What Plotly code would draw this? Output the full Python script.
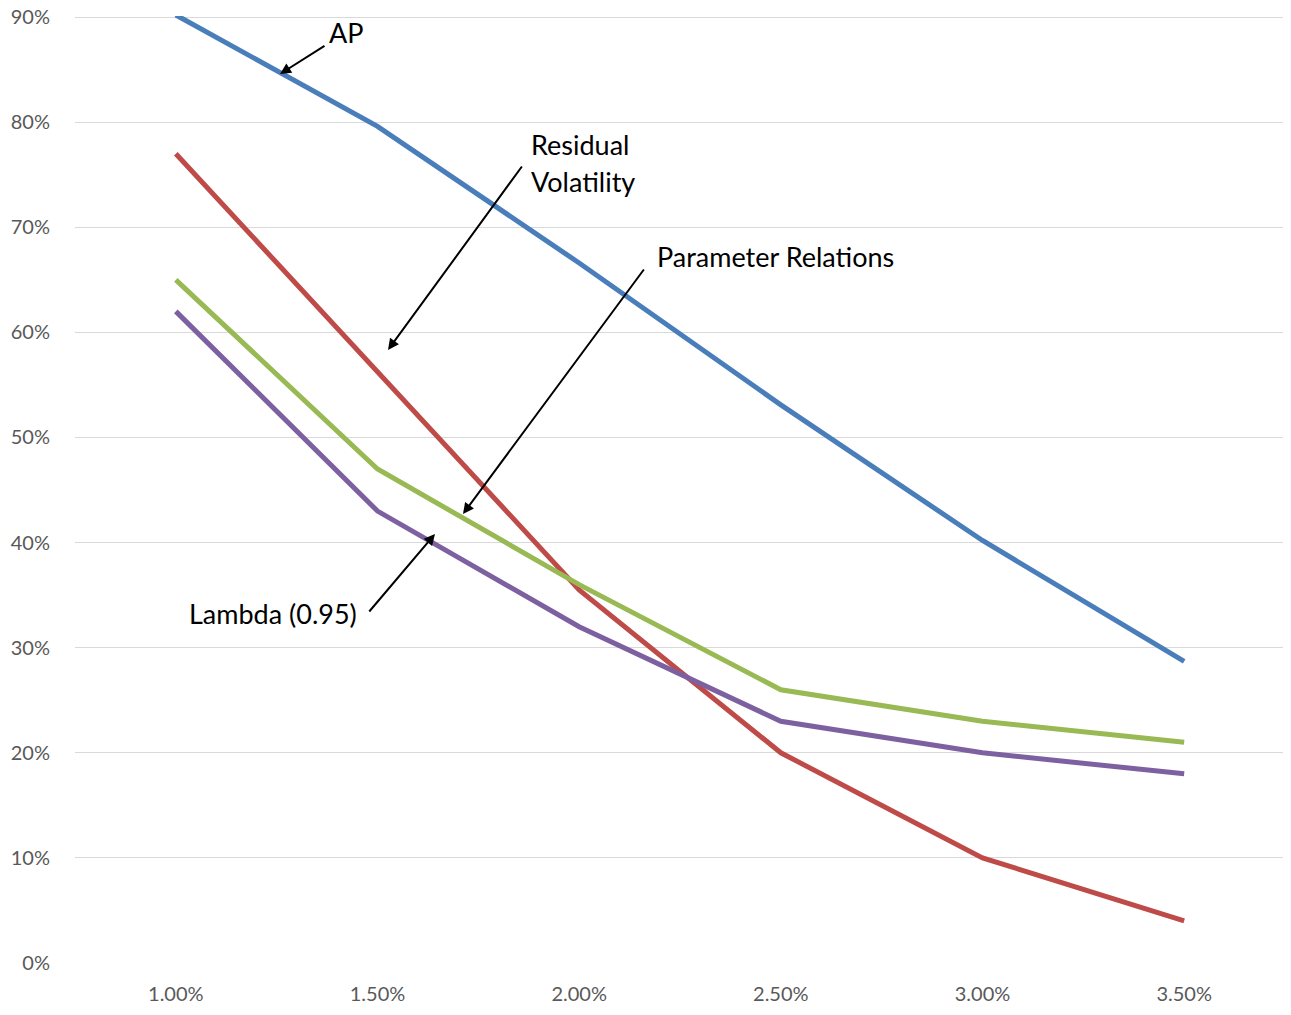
import plotly.graph_objects as go

categories = ["1.00%", "1.50%", "2.00%", "2.50%", "3.00%", "3.50%"]
ap = [0.902, 0.796, 0.666, 0.531, 0.402, 0.287]
residual_vol = [0.77, 0.562, 0.355, 0.20, 0.10, 0.04]
param_rel = [0.65, 0.47, 0.36, 0.26, 0.23, 0.21]
lambda_095 = [0.62, 0.43, 0.32, 0.23, 0.20, 0.18]
y_ticks = [0.0, 0.1, 0.2, 0.3, 0.4, 0.5, 0.6, 0.7, 0.8, 0.9]

series_names = ["AP", "Residual Volatility", "Parameter Relations", "Lambda (0.95)"]
series_values = [ap, residual_vol, param_rel, lambda_095]
series_colors = ["#4A7EBB", "#BE4B48", "#98B954", "#7D60A0"]

# page offset (body margin) and target plot area in screen pixels
OFF = 8
PX0, PX1, PY0, PY1 = 75, 1285, 16, 963
Y_MAX = 0.901
FIG_W, FIG_H = 1277, 999
L = PX0 - OFF
R = FIG_W - (PX1 - OFF)
T = PY0 - OFF
B = FIG_H - (PY1 - OFF)
FONT = "Lato, 'Open Sans', sans-serif"

fig = go.Figure()
for name, vals, col in zip(series_names, series_values, series_colors):
    fig.add_trace(go.Scatter(
        x=list(range(len(categories))), y=vals, mode="lines", name=name,
        line=dict(color=col, width=5), showlegend=False, cliponaxis=True,
    ))

pw, ph = PX1 - PX0, PY1 - PY0


def px2paper(px, py):
    return (px - PX0) / pw, (PY1 - py) / ph


def px2data(px, py):
    xd = (px - PX0) / pw * len(categories) - 0.5
    yd = (PY1 - py) / ph * Y_MAX
    return xd, yd


# arrows: (tip px, tail px)
arrows = [((280, 74), (326, 45)),
          ((388, 350), (523, 165)),
          ((463, 514), (645, 268)),
          ((435, 534), (368, 613))]
for (tx, ty), (sx, sy) in arrows:
    xd, yd = px2data(tx, ty)
    fig.add_annotation(x=xd, y=yd, xref="x", yref="y", text="", showarrow=True,
                       ax=sx - tx, ay=sy - ty, axref="pixel", ayref="pixel",
                       arrowhead=2, arrowsize=1.1, arrowwidth=2, arrowcolor="black")

labels = [("AP", 327, 33, "left"),
          ("Residual", 529, 145, "left"),
          ("Volatility", 529, 181, "left"),
          ("Parameter Relations", 655, 256, "left"),
          ("Lambda (0.95)", 359, 613, "right")]
for txt, lx, ly, anc in labels:
    xp, yp = px2paper(lx, ly)
    fig.add_annotation(x=xp, y=yp, xref="paper", yref="paper", text=txt,
                       showarrow=False, xanchor=anc, yanchor="middle",
                       font=dict(family=FONT, size=27, color="black"))

fig.update_layout(
    width=FIG_W, height=FIG_H,
    margin=dict(l=L, r=R, t=T, b=B, pad=0, autoexpand=False),
    paper_bgcolor="white", plot_bgcolor="white",
    font=dict(family=FONT),
)
fig.update_xaxes(
    tickmode="array", tickvals=list(range(len(categories))), ticktext=categories,
    range=[-0.5, len(categories) - 0.5], showgrid=False, zeroline=False,
    showline=False, ticks="", ticklabelstandoff=17, automargin=False,
    tickfont=dict(family=FONT, size=20, color="#595959"),
)
fig.update_yaxes(
    range=[0, Y_MAX], tickmode="array", tickvals=y_ticks,
    ticktext=[f"{int(round(v * 100))}%" for v in y_ticks],
    showgrid=True, gridcolor="#D9D9D9", gridwidth=1.3, zeroline=False,
    showline=False, ticks="", ticklabelstandoff=24, ticklabeloverflow="allow",
    automargin=False,
    tickfont=dict(family=FONT, size=20, color="#595959"),
)

fig.write_html("out.html")
